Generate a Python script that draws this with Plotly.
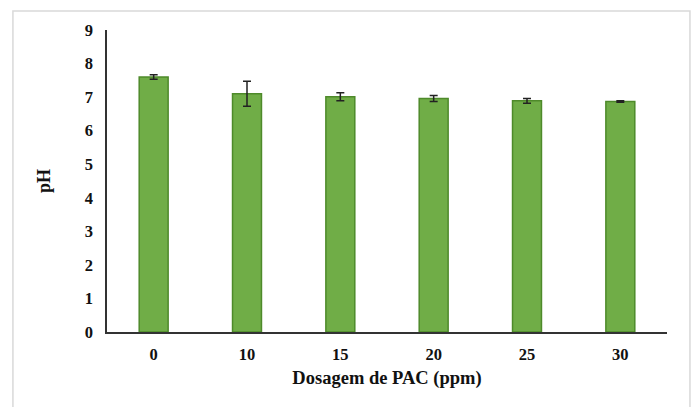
import plotly.graph_objects as go

# PAC dosage (ppm) vs. mean pH with standard deviation
dosagem = ["0", "10", "15", "20", "25", "30"]
ph = [7.60, 7.10, 7.01, 6.96, 6.89, 6.87]
desvio = [0.07, 0.37, 0.12, 0.09, 0.07, 0.02]

serif = "Liberation Serif, Times New Roman, serif"

fig = go.Figure(
    go.Bar(
        x=dosagem,
        y=ph,
        width=0.31,
        marker=dict(color="#70AD47", line=dict(color="#4E8A2A", width=1.5)),
        error_y=dict(type="data", array=desvio, visible=True,
                     color="#222222", thickness=1.5, width=4),
    )
)

fig.update_layout(
    width=696,
    height=407,
    margin=dict(l=107, r=29, t=30, b=75),
    paper_bgcolor="white",
    plot_bgcolor="white",
    showlegend=False,
    font=dict(family=serif, size=16, color="#111111"),
    xaxis=dict(
        title=dict(text="<b>Dosagem de PAC (ppm)</b>", standoff=9,
                   font=dict(family=serif, size=18.5)),
        tickfont=dict(family=serif, size=16.5),
        tickprefix="<b>", ticksuffix="</b>",
        ticklabelstandoff=6,
        showline=True, linecolor="#333333", linewidth=1.5,
        showgrid=False, ticks="",
    ),
    yaxis=dict(
        title=dict(text="<b>pH</b>", standoff=29,
                   font=dict(family=serif, size=18)),
        range=[0, 9],
        dtick=1,
        tickfont=dict(family=serif, size=16.5),
        tickprefix="<b>", ticksuffix="</b>",
        ticklabelstandoff=9,
        showline=True, linecolor="#333333", linewidth=1.5,
        showgrid=False, ticks="", zeroline=False,
    ),
    shapes=[
        dict(type="rect", xref="paper", yref="paper",
             x0=-0.168, x1=1.041, y0=-0.27, y1=1.063,
             line=dict(color="#D9D9D9", width=1.5), fillcolor="rgba(0,0,0,0)",
             layer="below"),
    ],
)

fig.write_html("out.html")
